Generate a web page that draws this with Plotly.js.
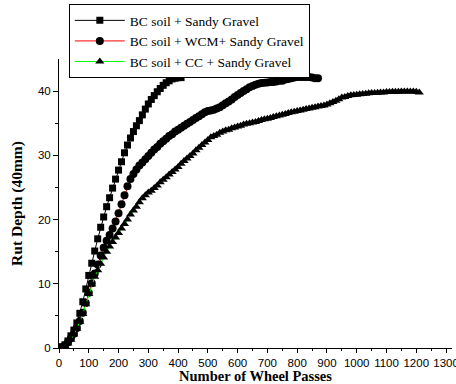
<!DOCTYPE html>
<html>
<head>
<meta charset="utf-8">
<script src="https://cdn.plot.ly/plotly-3.0.1.min.js"></script>
<style>html,body{margin:0;padding:0;background:#fff;}#chart{width:456px;height:384px;}</style>
</head>
<body>
<div id="chart"></div>
<script>
const seriesNames = ["BC soil + Sandy Gravel", "BC soil + WCM+ Sandy Gravel", "BC soil + CC + Sandy Gravel"];

const passesA = [0,10,20,30,40,50,60,70,80,90,100,110,120,130,140,150,160,170,180,190,200,210,220,230,240,250,260,270,280,290,300,310,320,330,340,350,360,370,380,390,400,410];
const rutA = [0,0.2,0.5,1.1,1.9,2.8,3.9,5.4,7.2,9.2,11.3,13.2,15.1,17.0,18.8,20.4,22.0,23.4,24.9,26.3,27.7,29.0,30.4,31.6,32.7,33.7,34.6,35.4,36.3,37.2,38.0,38.7,39.3,39.9,40.4,40.9,41.3,41.6,41.9,42.0,42.1,42.1];

const passesB = [0,10,20,30,40,50,60,70,80,90,100,110,120,130,140,150,160,170,180,190,200,210,220,230,240,250,260,270,280,290,300,310,320,330,340,350,360,370,380,390,400,410,420,430,440,450,460,470,480,490,500,510,520,530,540,550,560,570,580,590,600,610,620,630,640,650,660,670,680,690,700,710,720,730,740,750,760,770,780,790,800,810,820,830,840,850,860,870];
const rutB = [0,0.1,0.4,0.9,1.5,2.2,3.1,4.2,5.5,7.0,8.6,10.1,11.6,13.0,14.4,15.6,16.7,17.6,18.6,19.7,21.0,22.4,23.8,25.2,26.3,27.1,27.8,28.4,28.9,29.4,29.9,30.4,30.9,31.3,31.8,32.2,32.6,33.0,33.3,33.7,34.0,34.3,34.6,34.9,35.2,35.5,35.8,36.1,36.4,36.7,36.9,37.0,37.1,37.3,37.5,37.8,38.1,38.4,38.7,39.1,39.4,39.7,40.0,40.3,40.6,40.8,41.0,41.15,41.25,41.3,41.35,41.4,41.4,41.5,41.6,41.6,41.8,41.9,42.0,42.1,42.2,42.2,42.2,42.2,42.2,42.1,42.0,42.0];

const passesC = [0,10,20,30,40,50,60,70,80,90,100,110,120,130,140,150,160,170,180,190,200,210,220,230,240,250,260,270,280,290,300,310,320,330,340,350,360,370,380,390,400,410,420,430,440,450,460,470,480,490,500,510,520,530,540,550,560,570,580,590,600,610,620,630,640,650,660,670,680,690,700,710,720,730,740,750,760,770,780,790,800,810,820,830,840,850,860,870,880,890,900,910,920,930,940,950,960,970,980,990,1000,1010,1020,1030,1040,1050,1060,1070,1080,1090,1100,1110,1120,1130,1140,1150,1160,1170,1180,1190,1200,1210];
const rutC = [0,0.1,0.3,0.7,1.3,2.1,3.0,4.1,5.3,6.8,8.4,9.9,11.1,12.1,13.1,14.1,15.0,15.8,16.5,17.2,17.9,18.6,19.3,20.0,20.8,21.4,22.0,22.7,23.3,23.8,24.2,24.5,24.9,25.3,25.8,26.2,26.6,27.0,27.4,27.8,28.2,28.7,29.1,29.5,29.9,30.3,30.8,31.2,31.6,32.0,32.4,32.8,33.0,33.2,33.5,33.7,33.9,34.0,34.2,34.35,34.5,34.6,34.8,34.9,35.0,35.1,35.2,35.35,35.5,35.6,35.7,35.8,35.95,36.1,36.2,36.3,36.45,36.6,36.7,36.8,36.9,37.0,37.1,37.2,37.3,37.4,37.5,37.6,37.7,37.75,37.9,38.1,38.3,38.5,38.75,39.0,39.1,39.25,39.35,39.4,39.45,39.5,39.55,39.6,39.65,39.7,39.7,39.75,39.8,39.8,39.85,39.85,39.9,39.9,39.9,39.95,39.95,39.95,39.95,39.95,39.9,39.8];

const xTicks = [0,100,200,300,400,500,600,700,800,900,1000,1100,1200,1300];
const xMinor = [50,150,250,350,450,550,650,750,850,950,1050,1150,1250];
const yTicks = [0,10,20,30,40];
const yMinor = [5,15,25,35];

const traces = [
  {x: passesA, y: rutA, name: seriesNames[0], type: 'scatter', mode: 'lines+markers',
   line: {color: '#000000', width: 1}, marker: {symbol: 'square', size: 7, color: '#000000'}},
  {x: passesB, y: rutB, name: seriesNames[1], type: 'scatter', mode: 'lines+markers',
   line: {color: '#ff0000', width: 1}, marker: {symbol: 'circle', size: 8, color: '#000000'}},
  {x: passesC, y: rutC, name: seriesNames[2], type: 'scatter', mode: 'lines+markers',
   line: {color: '#00ff00', width: 1}, marker: {symbol: 'triangle-up', size: 8, color: '#000000'}}
];

const tickFont = {family: 'Liberation Sans, Arial, sans-serif', size: 11.5, color: '#000'};

const layout = {
  width: 456, height: 384,
  margin: {l: 59, r: 4, t: 56, b: 36},
  paper_bgcolor: '#fff', plot_bgcolor: '#fff',
  showlegend: true,
  legend: {
    x: 0.025, y: 1.19, xanchor: 'left', yanchor: 'top',
    bgcolor: '#fff', bordercolor: '#000', borderwidth: 1,
    font: {family: 'Liberation Serif, Times New Roman, serif', size: 13.5, color: '#000'},
    itemwidth: 50,
    tracegroupgap: 0
  },
  xaxis: {
    range: [0, 1320], tickvals: xTicks, ticktext: xTicks.map(String),
    ticks: 'outside', ticklen: 4, tickwidth: 1, tickcolor: '#000',
    ticklabeloverflow: 'allow',
    minor: {tickvals: xMinor, ticks: 'outside', ticklen: 2, tickcolor: '#000'},
    showline: true, linecolor: '#000', linewidth: 1, showgrid: false, zeroline: false,
    tickfont: tickFont,
    title: {text: 'Number of Wheel Passes', font: {family: 'Liberation Serif, Times New Roman, serif', size: 14.5, color: '#000', weight: 'bold'}, standoff: 1}
  },
  yaxis: {
    range: [0, 45], tickvals: yTicks, ticktext: yTicks.map(String),
    ticks: 'outside', ticklen: 5, tickwidth: 1, tickcolor: '#000',
    minor: {tickvals: yMinor, ticks: 'outside', ticklen: 3, tickcolor: '#000'},
    showline: true, linecolor: '#000', linewidth: 1, showgrid: false, zeroline: false,
    tickfont: tickFont,
    title: {text: 'Rut Depth (40mm)', font: {family: 'Liberation Serif, Times New Roman, serif', size: 15.5, color: '#000', weight: 'bold'}, standoff: 11}
  }
};

Plotly.newPlot('chart', traces, layout, {displayModeBar: false, staticPlot: true});
</script>
</body>
</html>
